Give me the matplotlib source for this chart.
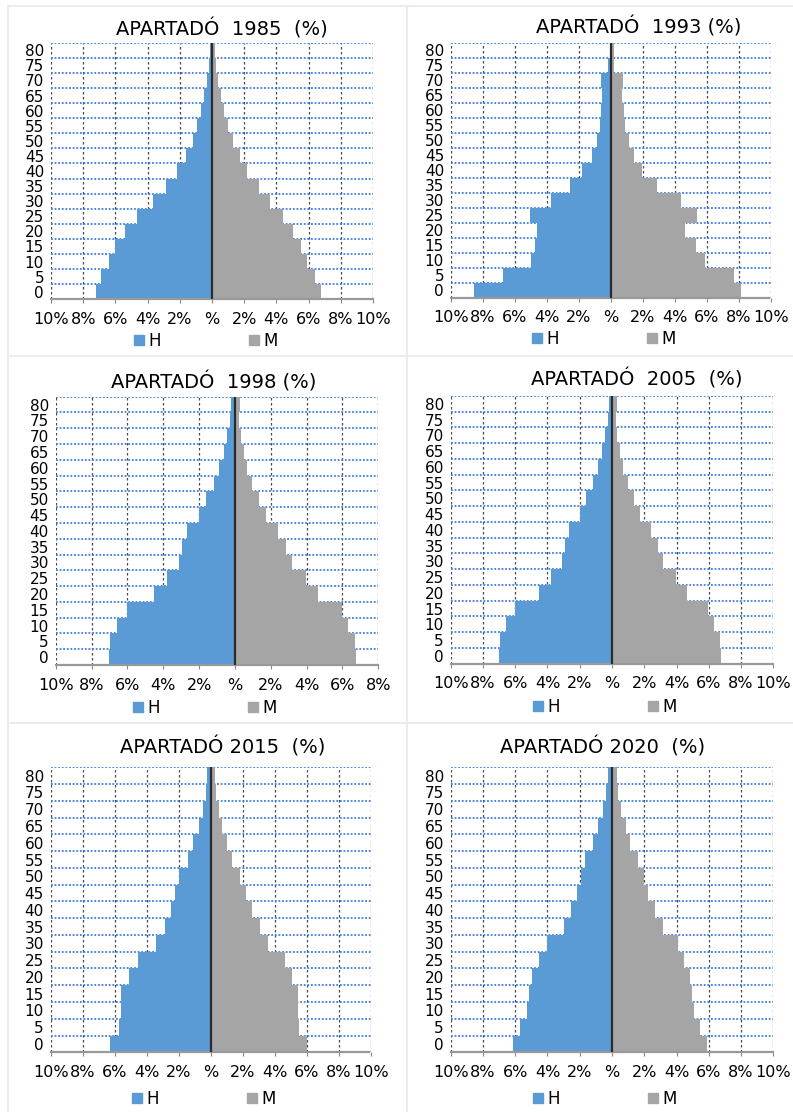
import numpy as np
import matplotlib
matplotlib.use("Agg")
import matplotlib.pyplot as plt
from matplotlib.patches import Patch
from matplotlib.lines import Line2D

plt.rcParams['font.family'] = ['DejaVu Sans']

ages = ['0', '5', '10', '15', '20', '25', '30', '35', '40', '45', '50', '55', '60', '65', '70', '75', '80']

h_1985 = [7.21, 6.88, 6.40, 6.01, 5.39, 4.63, 3.68, 2.87, 2.15, 1.63, 1.20, 0.93, 0.68, 0.50, 0.31, 0.17, 0.10]
m_1985 = [6.78, 6.38, 5.87, 5.50, 5.04, 4.40, 3.62, 2.91, 2.19, 1.71, 1.28, 1.01, 0.76, 0.56, 0.37, 0.23, 0.17]

h_1993 = [8.56, 6.77, 4.98, 4.75, 4.63, 5.04, 3.77, 2.58, 1.83, 1.17, 0.90, 0.69, 0.63, 0.56, 0.65, 0.17, 0.08]
m_1993 = [8.15, 7.69, 5.88, 5.31, 4.63, 5.35, 4.35, 2.88, 1.96, 1.44, 1.10, 0.90, 0.81, 0.71, 0.75, 0.19, 0.19]

h_1998 = [7.01, 6.97, 6.56, 6.00, 4.52, 3.81, 3.14, 2.94, 2.66, 2.01, 1.64, 1.17, 0.87, 0.63, 0.45, 0.30, 0.22]
m_1998 = [6.77, 6.69, 6.32, 5.97, 4.65, 3.98, 3.16, 2.84, 2.43, 1.73, 1.34, 0.97, 0.69, 0.50, 0.32, 0.22, 0.28]

h_2005 = [7.00, 6.96, 6.55, 5.99, 4.50, 3.78, 3.12, 2.91, 2.67, 1.98, 1.61, 1.16, 0.87, 0.60, 0.41, 0.25, 0.21]
m_2005 = [6.78, 6.69, 6.32, 5.97, 4.67, 3.97, 3.18, 2.87, 2.42, 1.74, 1.36, 0.97, 0.68, 0.50, 0.33, 0.23, 0.31]

h_2015 = [6.31, 5.75, 5.60, 5.58, 5.13, 4.56, 3.42, 2.85, 2.48, 2.23, 1.96, 1.44, 1.10, 0.73, 0.50, 0.27, 0.23]
m_2015 = [6.04, 5.54, 5.46, 5.46, 5.06, 4.67, 3.60, 3.06, 2.56, 2.21, 1.85, 1.35, 1.04, 0.71, 0.54, 0.33, 0.29]

h_2020 = [6.16, 5.72, 5.29, 5.12, 4.94, 4.50, 4.01, 3.00, 2.52, 2.17, 1.94, 1.67, 1.20, 0.87, 0.54, 0.35, 0.25]
m_2020 = [5.89, 5.43, 5.06, 4.96, 4.83, 4.46, 4.07, 3.14, 2.69, 2.21, 1.96, 1.59, 1.14, 0.85, 0.56, 0.39, 0.33]

titles = ['APARTADÓ  1985  (%)', 'APARTADÓ  1993 (%)', 'APARTADÓ  1998 (%)',
          'APARTADÓ  2005  (%)', 'APARTADÓ 2015  (%)', 'APARTADÓ 2020  (%)']
legend_labels = ['H', 'M']

W, H = 793, 1112
fig = plt.figure(figsize=(W / 100, H / 100), dpi=100)

BLUE = '#5B9BD5'
GRAY = '#A5A5A5'

# panel layout in pixels: (left, top, right, bottom), title (x, y), legend (x, y), xmax
panels = [
    (h_1985, m_1985, (51, 42.7, 373, 299.3), (222, 29), (206, 341), 10),
    (h_1993, m_1993, (451, 42.7, 771, 297.7), (639, 27), (604, 339), 10),
    (h_1998, m_1998, (55.7, 396.7, 378.3, 665), (214, 382), (205, 708), 8),
    (h_2005, m_2005, (450.7, 396, 773.3, 663.7), (637, 379), (605, 707), 10),
    (h_2015, m_2015, (50.7, 767.3, 370.7, 1052.3), (223, 747), (204, 1099), 10),
    (h_2020, m_2020, (450.7, 767.3, 773.3, 1052.3), (603, 747), (605, 1099), 10),
]

# light chart frames
for y in [5.5, 356, 722.5]:
    fig.add_artist(Line2D([8 / W, 1], [1 - y / H, 1 - y / H], color='#ececec', lw=1.5, transform=fig.transFigure))
for x in [8, 407]:
    fig.add_artist(Line2D([x / W, x / W], [0, 1 - 5.5 / H], color='#ececec', lw=1.5, transform=fig.transFigure))

ypos = np.arange(len(ages))

for i, (hv, mv, (l, t, r, b), (tx, ty), (lx, ly), xmax) in enumerate(panels):
    ax = fig.add_axes([l / W, 1 - b / H, (r - l) / W, (b - t) / H])
    ax.set_axisbelow(True)
    ax.barh(ypos, -np.array(hv), height=1.0, color=BLUE, zorder=2, label=legend_labels[0])
    ax.barh(ypos, np.array(mv), height=1.0, color=GRAY, zorder=2, label=legend_labels[1])
    ax.axvline(0, color='#2b2b2b', lw=1.6, zorder=3)
    ax.set_xlim(-10, xmax)
    ax.set_ylim(-0.5, len(ages) - 0.5)

    xt = np.arange(-10, xmax + 1, 2)
    ax.set_xticks(xt)
    ax.set_xticklabels([('%d%%' % abs(v)) if v != 0 else '%' for v in xt], fontsize=11.5)
    ax.set_yticks(ypos)
    ax.set_yticklabels(ages, fontsize=11)
    ax.set_yticks(np.arange(-0.5, len(ages), 1), minor=True)
    ax.tick_params(axis='y', which='both', length=0, pad=5)
    ax.tick_params(axis='x', which='major', length=3, color='#888888', pad=6)

    ax.grid(which='minor', axis='y', color='#3a7ee6', linestyle=(0, (1, 1)), lw=1.3)
    ax.grid(which='major', axis='y', visible=False)
    ax.grid(which='major', axis='x', color='#4a4a4a', linestyle=(0, (2, 2)), lw=0.9)

    for s in ['left', 'right', 'top']:
        ax.spines[s].set_visible(False)
    ax.spines['bottom'].set_color('#999999')
    ax.spines['bottom'].set_linestyle((0, (2, 1)))
    ax.spines['bottom'].set_linewidth(1.6)

    fig.text(tx / W, 1 - ty / H, titles[i], ha='center', va='center', fontsize=14)

    handles = [Patch(color=BLUE, label=legend_labels[0]), Patch(color=GRAY, label=legend_labels[1])]
    fig.legend(handles=handles, loc='center', bbox_to_anchor=(lx / W, 1 - ly / H), ncol=2,
               frameon=False, fontsize=12, handlelength=0.6, handleheight=0.6,
               handletextpad=0.25, columnspacing=5.3, borderaxespad=0, borderpad=0)

fig.savefig('out.png', dpi=100)
